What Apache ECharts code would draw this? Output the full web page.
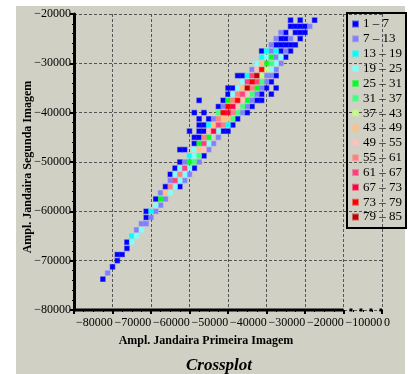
<!DOCTYPE html>
<html>
<head>
<meta charset="utf-8">
<script src="https://cdn.jsdelivr.net/npm/echarts@6/dist/echarts.min.js"></script>
<style>
  html, body { margin: 0; padding: 0; background: #fff; }
  #main { width: 411px; height: 374px; }
</style>
</head>
<body>
<div id="main"></div>
<script>
// classes (legend)
var classNames = ['1 \u2013 7', '7 \u2013 13', '13 \u2013 19', '19 \u2013 25', '25 \u2013 31', '31 \u2013 37', '37 \u2013 43',
  '43 \u2013 49', '49 \u2013 55', '55 \u2013 61', '61 \u2013 67', '67 \u2013 73', '73 \u2013 79', '79 \u2013 85'];
var classColors = ['#0000ff', '#8080ff', '#00ffff', '#80ffff', '#00ff20', '#40ff80', '#c0ff80',
  '#ffc080', '#ffc0c0', '#ff8080', '#ff4080', '#ff0040', '#ff0000', '#c00000'];

var xTicks = [-80000, -70000, -60000, -50000, -40000, -30000, -20000, -10000, 0];
var yTicks = [-80000, -70000, -60000, -50000, -40000, -30000, -20000];

// [primeira, segunda]
var c1to7 = [
  [-23750,-21250],[-21250,-21250],[-17500,-21250],
  [-23750,-22500],[-22500,-22500],[-21250,-22500],[-20000,-22500],
  [-25000,-23750],[-22500,-23750],[-21250,-23750],[-20000,-23750],
  [-26250,-25000],[-25000,-25000],[-21250,-25000],
  [-27500,-26250],[-26250,-26250],[-25000,-26250],[-23750,-26250],[-22500,-26250],
  [-31250,-27500],[-26250,-27500],[-23750,-27500],
  [-25000,-28750],
  [-37500,-32500],[-36250,-32500],[-27500,-32500],
  [-28750,-33750],
  [-40000,-35000],[-38750,-35000],[-30000,-35000],[-27500,-35000],
  [-40000,-36250],[-31250,-36250],[-28750,-36250],
  [-47500,-37500],[-41250,-37500],[-32500,-37500],[-31250,-37500],
  [-42500,-38750],[-33750,-38750],
  [-48750,-40000],[-46250,-40000],[-35000,-40000],
  [-47500,-41250],[-45000,-41250],[-37500,-41250],
  [-47500,-42500],[-46250,-42500],[-38750,-42500],
  [-50000,-43750],[-47500,-43750],[-46250,-43750],[-41250,-43750],[-40000,-43750],
  [-48750,-45000],[-47500,-45000],
  [-48750,-46250],
  [-52500,-47500],[-51250,-47500],
  [-46250,-48750],
  [-52500,-50000],
  [-53750,-51250],[-48750,-51250],
  [-55000,-52500],
  [-56250,-55000],[-52500,-55000],
  [-58750,-57500],
  [-61250,-60000],
  [-61250,-61250],
  [-66250,-66250],
  [-66250,-67500],
  [-68750,-68750],[-67500,-68750],
  [-68750,-70000],
  [-70000,-71250],
  [-72500,-73750]
];
var c7to13 = [
  [-18750,-22500],[-26250,-23750],[-27500,-25000],[-23750,-25000],[-28750,-26250],
  [-28750,-27500],[-25000,-27500],[-27500,-28750],[-26250,-30000],
  [-33750,-31250],[-27500,-31250],[-30000,-32500],[-28750,-32500],[-30000,-33750],
  [-31250,-35000],[-32500,-36250],[-33750,-37500],[-41250,-38750],[-35000,-38750],
  [-36250,-40000],[-43750,-41250],[-42500,-45000],[-43750,-46250],[-45000,-47500],
  [-51250,-50000],[-47500,-50000],[-50000,-52500],[-55000,-53750],[-51250,-53750],
  [-57500,-56250],[-56250,-57500],[-57500,-58750],[-58750,-60000],[-60000,-61250],
  [-62500,-62500],[-61250,-62500],[-63750,-63750],[-71250,-72500]
];
var c13to19 = [
  [-30000,-27500],[-27500,-27500],[-31250,-28750],[-35000,-32500],
  [-45000,-42500],[-40000,-42500],[-50000,-48750],[-60000,-60000],[-65000,-65000]
];
var c19to25 = [
  [-30000,-28750],[-26250,-28750],[-32500,-30000],[-27500,-30000],[-28750,-31250],
  [-36250,-33750],[-37500,-35000],[-38750,-36250],[-42500,-43750],[-45000,-46250],
  [-48750,-47500],[-48750,-48750],[-52500,-51250],[-50000,-51250],[-53750,-52500],
  [-51250,-52500],[-52500,-53750],[-53750,-55000],[-55000,-56250],[-58750,-58750],
  [-62500,-63750],[-63750,-65000],[-65000,-66250]
];
var c25to31 = [
  [-28750,-28750],[-30000,-30000],[-32500,-35000],[-40000,-37500],[-35000,-37500],
  [-45000,-45000],[-47500,-46250],[-50000,-50000],[-57500,-57500]
];
var c31to37 = [
  [-28750,-30000],[-31250,-33750],[-33750,-36250],[-36250,-38750],[-42500,-40000],
  [-37500,-40000],[-38750,-41250],[-47500,-48750],[-48750,-50000]
];
var c37to43 = [[-30000,-31250],[-31250,-32500]];
var c43to49 = [
  [-31250,-30000],[-36250,-35000],[-41250,-41250],[-40000,-41250],[-43750,-42500],
  [-47500,-47500],[-56250,-56250]
];
var c49to55 = [
  [-32500,-31250],[-35000,-36250],[-36250,-37500],[-37500,-38750],[-45000,-43750],
  [-46250,-47500]
];
var c55to61 = [
  [-33750,-35000],[-37500,-36250],[-38750,-37500],[-38750,-40000],[-42500,-41250],
  [-41250,-42500],[-46250,-45000],[-52500,-52500],[-55000,-55000]
];
var c61to67 = [
  [-33750,-32500],[-35000,-33750],[-32500,-33750],[-36250,-36250],[-42500,-42500],
  [-46250,-46250],[-51250,-51250],[-53750,-53750]
];
var c67to73 = [[-38750,-38750],[-40000,-40000],[-43750,-43750]];
var c73to79 = [[-31250,-31250],[-33750,-33750],[-37500,-37500],[-40000,-38750],[-41250,-40000]];
var c79to85 = [[-32500,-32500],[-35000,-35000]];

var classData = [c1to7, c7to13, c13to19, c19to25, c25to31, c31to37, c37to43,
  c43to49, c49to55, c55to61, c61to67, c67to73, c73to79, c79to85];

function halo(hex) {
  var n = parseInt(hex.slice(1), 16);
  return 'rgba(' + (n >> 16) + ',' + ((n >> 8) & 255) + ',' + (n & 255) + ',0.5)';
}
function minus(v) {
  return String(v).replace('-', '\u2212');
}

var serif = '"Liberation Serif", "DejaVu Serif", serif';
var myChart = echarts.init(document.getElementById('main'));

var series = classData.map(function (d, i) {
  return {
    name: classNames[i],
    type: 'scatter',
    symbol: 'rect',
    symbolSize: 4.5,
    data: d,
    itemStyle: { color: classColors[i], borderColor: halo(classColors[i]), borderWidth: 1.2, opacity: 1 },
    z: 3
  };
});
// x axis line: solid part, then dotted break to 0
series.push({
  type: 'line', data: [[xTicks[0], yTicks[0]], [xTicks[7], yTicks[0]]],
  showSymbol: false, silent: true, clip: false, z: 6,
  lineStyle: { color: '#000', width: 3 }
});
series.push({
  type: 'line', data: [[xTicks[7], yTicks[0]], [xTicks[8], yTicks[0]]],
  showSymbol: false, silent: true, clip: false, z: 6,
  lineStyle: { color: '#000', width: 3, type: [3, 7], dashOffset: -6 }
});

var option = {
  backgroundColor: '#d1d0c4',
  animation: false,
  grid: { left: 74, right: 29, top: 14, bottom: 64 },
  legend: {
    data: classNames,
    orient: 'vertical',
    left: 347,
    top: 13,
    padding: [4, 4, 4, 5],
    borderColor: '#000',
    borderWidth: 2,
    icon: 'rect',
    itemWidth: 5,
    itemHeight: 5,
    itemGap: 0.85,
    selectedMode: false,
    textStyle: { fontFamily: serif, fontSize: 13, color: '#000', lineHeight: 14 }
  },
  xAxis: {
    type: 'value',
    min: xTicks[0],
    max: xTicks[xTicks.length - 1],
    interval: 10000,
    axisLine: { show: false, onZero: false },
    axisTick: { show: true, length: 4, lineStyle: { color: '#000', width: 2 } },
    minorTick: { show: true, splitNumber: 4, length: 2, lineStyle: { color: '#000', width: 1 } },
    axisLabel: {
      margin: 7, align: 'left', padding: [0, 0, 0, 2],
      fontFamily: serif, fontSize: 12, color: '#000',
      formatter: minus
    },
    splitLine: { show: true, lineStyle: { color: '#555', width: 1, type: [3, 2] } }
  },
  yAxis: {
    type: 'value',
    min: yTicks[0],
    max: yTicks[yTicks.length - 1],
    interval: 10000,
    axisLine: { show: true, onZero: false, lineStyle: { color: '#000', width: 3 } },
    axisTick: { show: true, length: 4, lineStyle: { color: '#000', width: 2 } },
    minorTick: { show: true, splitNumber: 5, length: 2, lineStyle: { color: '#000', width: 1 } },
    axisLabel: { margin: 3, fontFamily: serif, fontSize: 12, color: '#000', formatter: minus },
    splitLine: { show: true, lineStyle: { color: '#555', width: 1, type: [3, 2] } }
  },
  graphic: [
    { type: 'rect', shape: { x: 0, y: 0, width: 411, height: 6 }, style: { fill: '#fff' }, silent: true },
    { type: 'rect', shape: { x: 0, y: 0, width: 16, height: 374 }, style: { fill: '#fff' }, silent: true },
    { type: 'rect', shape: { x: 405, y: 0, width: 6, height: 374 }, style: { fill: '#fff' }, silent: true },
    {
      type: 'text', x: 206, y: 341,
      style: { text: 'Ampl. Jandaira Primeira Imagem', font: 'bold 12px ' + serif, fill: '#000',
        textAlign: 'center', textVerticalAlign: 'middle' }
    },
    {
      type: 'text', x: 28, y: 167, rotation: Math.PI / 2,
      style: { text: 'Ampl. Jandaira Segunda Imagem', font: 'bold 12px ' + serif, fill: '#000',
        textAlign: 'center', textVerticalAlign: 'middle' }
    },
    {
      type: 'text', x: 219, y: 366,
      style: { text: 'Crossplot', font: 'italic bold 17px ' + serif, fill: '#000',
        textAlign: 'center', textVerticalAlign: 'middle' }
    }
  ],
  series: series
};

myChart.setOption(option);
</script>
</body>
</html>
